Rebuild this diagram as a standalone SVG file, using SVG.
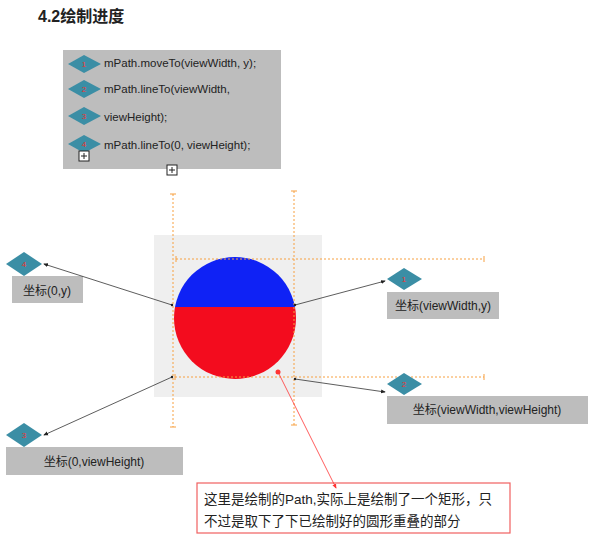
<svg xmlns="http://www.w3.org/2000/svg" width="609" height="538" viewBox="0 0 609 538">
<style>
text{font-family:"Liberation Sans","Noto Sans CJK SC",sans-serif;fill:#222}
.code{font-size:11.5px}
.lbl{font-size:12px;text-anchor:middle}
.gbox{fill:#bdbdbd}
.dia{fill:#3b8ea5}
.num{font-size:8px;fill:#e33;text-anchor:middle}
.od{stroke:#f7a040;stroke-width:1;stroke-dasharray:2,2;fill:none}
.ot{stroke:#f7a040;stroke-width:1}
.con{stroke:#333;stroke-width:0.8;fill:none;marker-end:url(#ah);marker-start:url(#dot)}
</style>
<defs>
<marker id="ah" viewBox="0 0 6 6" refX="5" refY="3" markerWidth="6" markerHeight="6" orient="auto"><path d="M0,0.5 L6,3 L0,5.5z" fill="#222"/></marker>
<marker id="dot" viewBox="0 0 4 4" refX="2" refY="2" markerWidth="4" markerHeight="4"><circle cx="2" cy="2" r="1.5" fill="#222"/></marker>
<marker id="rah" viewBox="0 0 6 6" refX="5" refY="3" markerWidth="6" markerHeight="6" orient="auto"><path d="M0,0.5 L6,3 L0,5.5z" fill="#f33"/></marker>
</defs>
<rect width="609" height="538" fill="#fff"/>
<text x="38" y="22" style="font-size:16px;font-weight:bold">4.2绘制进度</text>

<g id="code">
<rect x="63" y="50" width="218" height="119" class="gbox"/>
<polygon points="68,64 84,55 101,64 84,73" class="dia"/><text x="84" y="67" class="num">1</text>
<polygon points="68,89 84,80 101,89 84,98" class="dia"/><text x="84" y="92" class="num">2</text>
<polygon points="68,116 84,107 101,116 84,125" class="dia"/><text x="84" y="119" class="num">3</text>
<polygon points="68,144 84,135 101,144 84,153" class="dia"/><text x="84" y="147" class="num">4</text>
<text x="104" y="67" class="code">mPath.moveTo(viewWidth, y);</text>
<text x="104" y="93" class="code">mPath.lineTo(viewWidth,</text>
<text x="104" y="121" class="code">viewHeight);</text>
<text x="104" y="149" class="code">mPath.lineTo(0, viewHeight);</text>
<rect x="79" y="151" width="10" height="10" fill="#fff" stroke="#222"/><path d="M81,156h6M84,153v6" stroke="#222"/>
</g>
<g id="expand"><rect x="167" y="165" width="10" height="10" fill="#fff" stroke="#222"/><path d="M169,170h6M172,167v6" stroke="#222"/></g>

<g id="canvas">
<rect x="154" y="235" width="168" height="162" fill="#efefef"/>
<clipPath id="top"><rect x="150" y="240" width="170" height="67"/></clipPath>
<clipPath id="bot"><rect x="150" y="307" width="170" height="80"/></clipPath>
<circle cx="235" cy="318" r="61" fill="#0f22f5" clip-path="url(#top)"/>
<circle cx="235" cy="318" r="61" fill="#f30c1e" clip-path="url(#bot)"/>
</g>
<g id="guides">
<path d="M173,194V427M294,191V425M176,259H484M175,377H484" class="od"/>
<path d="M170,194h6M170,427h6M291,191h6M291,425h6M176,256v6M484,256v6M175,374v6M484,374v6" class="ot"/>
</g>

<g id="n4"><polygon points="6,264 24,252 42,264 24,276" class="dia"/><text x="24" y="267" class="num">4</text>
<rect x="12" y="276" width="71" height="27" class="gbox"/><text x="47" y="295" class="lbl">坐标(0,y)</text></g>
<g id="n3"><polygon points="6,435 24,423 42,435 24,447" class="dia"/><text x="24" y="438" class="num">3</text>
<rect x="6" y="447" width="177" height="28" class="gbox"/><text x="94" y="466" class="lbl">坐标(0,viewHeight)</text></g>
<g id="n1"><polygon points="387,279 404,268 422,279 404,290" class="dia"/><text x="404" y="282" class="num">1</text>
<rect x="387" y="292" width="112" height="27" class="gbox"/><text x="443" y="310" class="lbl">坐标(viewWidth,y)</text></g>
<g id="n2"><polygon points="387,384 404,373 422,384 404,395" class="dia"/><text x="404" y="387" class="num">2</text>
<rect x="387" y="396" width="201" height="28" class="gbox"/><text x="487" y="414" class="lbl">坐标(viewWidth,viewHeight)</text></g>

<g id="note"><rect x="197" y="483" width="313" height="50" fill="#fff" stroke="#f06060" stroke-width="1.2"/>
<text x="204" y="504" style="font-size:13.5px">这里是绘制的Path,实际上是绘制了一个矩形，只</text>
<text x="204" y="526" style="font-size:13.5px">不过是取下了下已绘制好的圆形重叠的部分</text></g>

<g id="connectors">
<path d="M172,305L44,264" class="con"/>
<path d="M172,377L44,435" class="con"/>
<path d="M295,305L385,281" class="con"/>
<path d="M295,379L385,392" class="con"/>
<circle cx="278" cy="372" r="2.5" fill="#f33"/>
<path d="M278,372L336,488" stroke="#f33" stroke-width="0.8" marker-end="url(#rah)"/>
</g>
</svg>
